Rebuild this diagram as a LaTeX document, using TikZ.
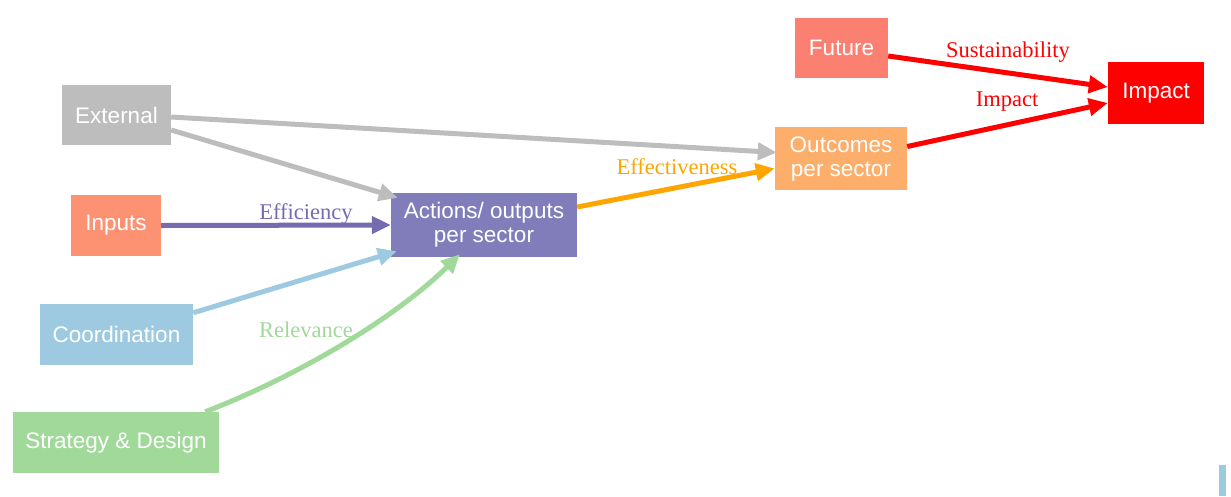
\documentclass[tikz,border=0pt]{standalone}
\usepackage{fontspec}
\setmainfont{Liberation Serif}
\newfontfamily\boxfont{Liberation Sans}
\usetikzlibrary{arrows.meta,calc}
\definecolor{cext}{RGB}{189,189,189}
\definecolor{cinp}{RGB}{252,146,114}
\definecolor{ccoo}{RGB}{158,202,225}
\definecolor{cstr}{RGB}{161,217,155}
\definecolor{cact}{RGB}{128,125,186}
\definecolor{cactl}{RGB}{117,107,177}
\definecolor{cout}{RGB}{253,174,107}
\definecolor{corg}{RGB}{255,165,0}
\definecolor{cfut}{RGB}{251,128,114}
\definecolor{cimp}{RGB}{255,0,0}
\tikzset{
  box/.style={inner sep=0pt, text=white, font=\boxfont\fontsize{22.5}{24}\selectfont, align=center},
  conn/.style={line width=5pt, -{Triangle[length=19pt,width=17pt]}},
  lab/.style={font=\fontsize{22.5}{24}\selectfont, inner sep=0pt}
}
\begin{document}
\begin{tikzpicture}[x=1pt,y=-1pt]
\useasboundingbox (0,0) rectangle (1231,496);
\node[box, fill=cext, minimum width=109pt, minimum height=60pt] (ext) at (116.5,115) {External};
\node[box, fill=cinp, minimum width=90pt, minimum height=61pt] (inp) at (116,225.5) {Inputs};
\node[box, fill=ccoo, minimum width=153pt, minimum height=61pt] (coo) at (116.5,334.5) {Coordination};
\node[box, fill=cstr, minimum width=206pt, minimum height=61pt] (str) at (116,442.5) {Strategy \& Design};
\node[box, fill=cact, minimum width=186pt, minimum height=64pt] (act) at (484,225) {Actions/ outputs\\per sector};
\node[box, fill=cout, minimum width=132pt, minimum height=63pt] (out) at (841,158.5) {Outcomes\\per sector};
\node[box, fill=cfut, minimum width=93pt, minimum height=60pt] (fut) at (841.5,48) {Future};
\node[box, fill=cimp, minimum width=96pt, minimum height=62pt] (imp) at (1156,93) {Impact};
\fill[ccoo] (1219,465) rectangle (1226,496);

\draw[conn, cext] ($(ext.east)+(0,2)$) -- ($(out.west)+(2,-6)$);
\draw[conn, cext] ($(ext.east)+(0,15)$) -- ($(act.north west)+(7,5)$);
\draw[conn, cactl] (inp.east) -- (act.west);
\node[lab, text=cactl] (effi) at (306,214) {Efficiency};
\draw[conn, ccoo] ($(coo.north east)+(0,9)$) -- ($(act.south west)+(6,-6)$);
\draw[conn, cstr] ($(str.north east)+(-14,0)$) .. controls (300,375) and (395,318) .. ($(act.south)+(-24,-3)$);
\node[lab, text=cstr] (rel) at (306,330) {Relevance};
\draw[conn, corg] ($(act.east)+(0,-18)$) -- ($(out.west)+(0,10)$);
\node[lab, text=corg] (eff) at (677,167) {Effectiveness};
\draw[conn, cimp] ($(out.east)+(0,-12)$) -- ($(imp.west)+(0,10)$);
\node[lab, text=cimp] (impl) at (1007,102) {Impact};
\draw[conn, cimp] ($(fut.east)+(0,8)$) -- ($(imp.west)+(0,-6)$);
\node[lab, text=cimp] (sus) at (1008,52) {Sustainability};
\end{tikzpicture}
\end{document}
